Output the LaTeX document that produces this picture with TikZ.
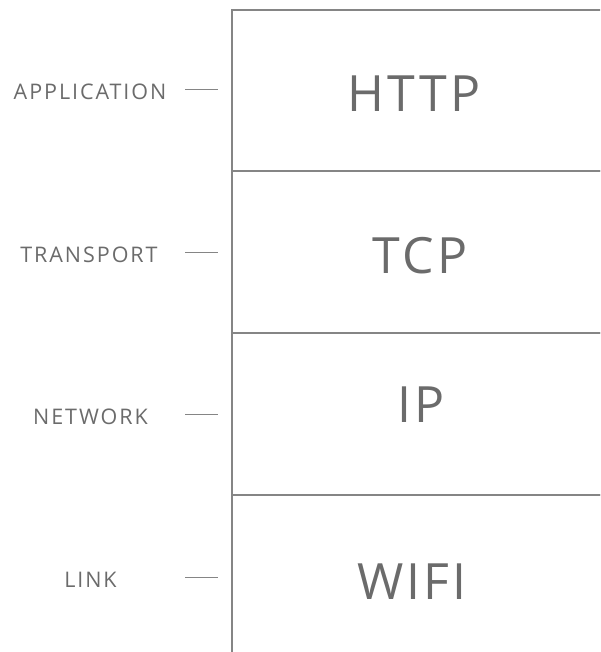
\documentclass[tikz,border=0pt]{standalone}
\usepackage{fontspec}
\setmainfont{Open Sans}
\newfontfamily\protofont[LetterSpace=6]{Open Sans}
\newfontfamily\lblfont[LetterSpace=9]{Open Sans}
\definecolor{txt}{HTML}{6B6B6B}
\definecolor{ln}{HTML}{858585}
\begin{document}
\begin{tikzpicture}[x=1pt,y=-1pt,
  layer/.style={draw=ln,line width=1.4pt},
  proto/.style={text=txt,font=\protofont\fontsize{50}{50}\selectfont,anchor=base,inner sep=0pt},
  lbl/.style={text=txt,font=\lblfont\fontsize{21.5}{21.5}\selectfont,anchor=base,inner sep=0pt},
  tick/.style={draw=ln,line width=1pt}]
\useasboundingbox (0,0) rectangle (600,652);
\clip (0,0) rectangle (600,652);
\draw[layer] (232,10) rectangle (620,171);
\draw[layer] (232,171) rectangle (620,333);
\draw[layer] (232,333) rectangle (620,495);
\draw[layer] (232,495) rectangle (620,670);
\node[proto] (http) at (414,112) {HTTP};
\node[proto] (tcp) at (420,273) {TCP};
\node[proto] (ip) at (421,422) {IP};
\node[proto] (wifi) at (412,599) {WIFI};
\node[lbl] (app) at (90,99.5) {APPLICATION};
\node[lbl] (trans) at (89,262) {TRANSPORT};
\node[lbl] (net) at (90.5,424) {NETWORK};
\node[lbl] (link) at (90.5,587) {LINK};
\coordinate (a1) at (185,90); \coordinate (a2) at (218,90);
\coordinate (t1) at (185,252); \coordinate (t2) at (218,252);
\coordinate (n1) at (185,414); \coordinate (n2) at (218,414);
\coordinate (l1) at (185,577); \coordinate (l2) at (218,577);
\draw[tick] (a1) -- (a2);
\draw[tick] (t1) -- (t2);
\draw[tick] (n1) -- (n2);
\draw[tick] (l1) -- (l2);
\end{tikzpicture}
\end{document}
